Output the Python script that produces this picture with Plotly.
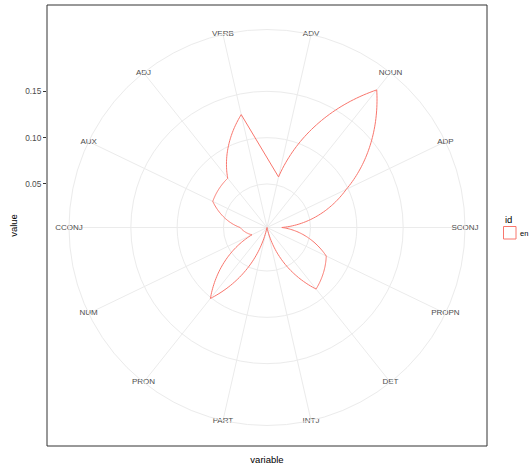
import numpy as np
import plotly.graph_objects as go

# ---------------- data ----------------
categories = ["ADV", "NOUN", "ADP", "SCONJ", "PROPN", "DET", "INTJ",
              "PART", "PRON", "NUM", "CCONJ", "AUX", "ADJ", "VERB"]
values_en = [0.059, 0.193, 0.098, 0.019, 0.074, 0.088, 0.003,
             0.0035, 0.101, 0.021, 0.032, 0.068, 0.071, 0.128]
series_id = "en"
radial_tickvals = [0.05, 0.10, 0.15]
radial_ticktext = ["0.05", "0.10", "0.15"]

# ---------------- geometry ----------------
W, H = 529, 468
ml, mr, mt, mb = 47, 42, 5, 22
pw, ph = W - ml - mr, H - mt - mb
R = 0.45 * pw                      # outer circle radius in px
cy = 222.5                         # circle centre, px from top of panel

n = len(categories)
step = 360.0 / n
theta_pos = [(i + 0.5) * step for i in range(n)]

vmin, vmax = min(values_en), max(values_en)
rmax_axis = vmin + (vmax - vmin) * 0.45 / 0.4
ppu = R / (rmax_axis - vmin)       # px per data unit on radial axis

LINE = "#F8766D"
FONT = "Liberation Sans, Arial, Helvetica, sans-serif"


def polar_path(theta, r, k=40):
    """Path in polar space like ggplot's coord_polar munching;
    polygon closed with a straight edge."""
    th_out, r_out = [], []
    for i in range(len(theta) - 1):
        t = np.linspace(0, 1, k, endpoint=False)
        th_out += list(theta[i] + (theta[i + 1] - theta[i]) * t)
        r_out += list(r[i] + (r[i + 1] - r[i]) * t)
    th_out.append(theta[-1]); r_out.append(r[-1])
    th_out.append(theta[0]); r_out.append(r[0])
    return th_out, r_out


path_th, path_r = polar_path(theta_pos, values_en)

fig = go.Figure()
fig.add_trace(go.Scatterpolar(
    r=path_r, theta=path_th, mode="lines",
    line=dict(color=LINE, width=1), name=series_id,
    showlegend=False, hoverinfo="skip"))

fig.add_trace(go.Scatterpolar(
    r=[rmax_axis] * n, theta=theta_pos, mode="text", text=categories,
    textposition="middle center", cliponaxis=False,
    textfont=dict(size=8, color="#4d4d4d", family=FONT),
    showlegend=False, hoverinfo="skip"))

# dummy cartesian trace for the axis frame
fig.add_trace(go.Scatter(x=[None], y=[None], showlegend=False,
                         hoverinfo="skip"))

ydom0 = (ph - cy - R) / ph
ydom1 = (ph - cy + R) / ph

fig.update_layout(
    width=W, height=H,
    margin=dict(l=ml, r=mr, t=mt, b=mb, autoexpand=False),
    paper_bgcolor="white", plot_bgcolor="rgba(0,0,0,0)",
    font=dict(family=FONT),
    polar=dict(
        domain=dict(x=[0.05, 0.95], y=[ydom0, ydom1]),
        bgcolor="white",
        angularaxis=dict(rotation=90, direction="clockwise",
                         tickmode="array", tickvals=theta_pos,
                         showticklabels=False, ticks="",
                         showgrid=True, gridcolor="#ebebeb", gridwidth=1,
                         showline=True, linecolor="#ebebeb", linewidth=1),
        radialaxis=dict(range=[vmin, rmax_axis], tickmode="array",
                        tickvals=radial_tickvals, showticklabels=False,
                        ticks="", showline=False, showgrid=True,
                        gridcolor="#ebebeb", gridwidth=1),
    ),
    xaxis=dict(range=[0, 1], showgrid=False, zeroline=False,
               showticklabels=False, ticks="", showline=False,
               automargin=False,
               title=dict(text="variable", standoff=10,
                          font=dict(size=9.5, color="black", family=FONT))),
    yaxis=dict(range=[vmin - (ph - cy) / ppu, vmin + cy / ppu],
               showgrid=False, zeroline=False, showline=False,
               automargin=False,
               tickmode="array", tickvals=radial_tickvals,
               ticktext=radial_ticktext, ticks="outside", ticklen=3,
               tickcolor="#333333", tickwidth=1,
               tickfont=dict(size=8.3, color="#4d4d4d", family=FONT),
               title=dict(text="value", standoff=5,
                          font=dict(size=9.5, color="black", family=FONT))),
    showlegend=False,
)

# panel border
fig.add_shape(type="rect", xref="paper", yref="paper", x0=0, x1=1, y0=0,
              y1=1, line=dict(color="#333333", width=1), layer="above")


def px2paper(x, y):
    return (x - ml) / pw, (ph - (y - mt)) / ph


# legend
lx, ly = px2paper(503, 219)
fig.add_annotation(x=lx, y=ly, xref="paper", yref="paper", text="id",
                   showarrow=False, xanchor="left", yanchor="middle",
                   font=dict(size=9.5, color="black", family=FONT))
kx0, ky0 = px2paper(503.5, 239)
kx1, ky1 = px2paper(516, 226.5)
fig.add_shape(type="rect", xref="paper", yref="paper", x0=kx0, x1=kx1,
              y0=ky0, y1=ky1, line=dict(color=LINE, width=1),
              fillcolor="white")
ex, ey = px2paper(518, 233)
fig.add_annotation(x=ex, y=ey, xref="paper", yref="paper", text=series_id,
                   showarrow=False, xanchor="left", yanchor="middle",
                   font=dict(size=7.5, color="black", family=FONT))

fig.write_html("out.html",
               config={"displayModeBar": False},
               post_script="document.body.style.margin='0';"
                           "document.body.style.overflow='hidden';")
